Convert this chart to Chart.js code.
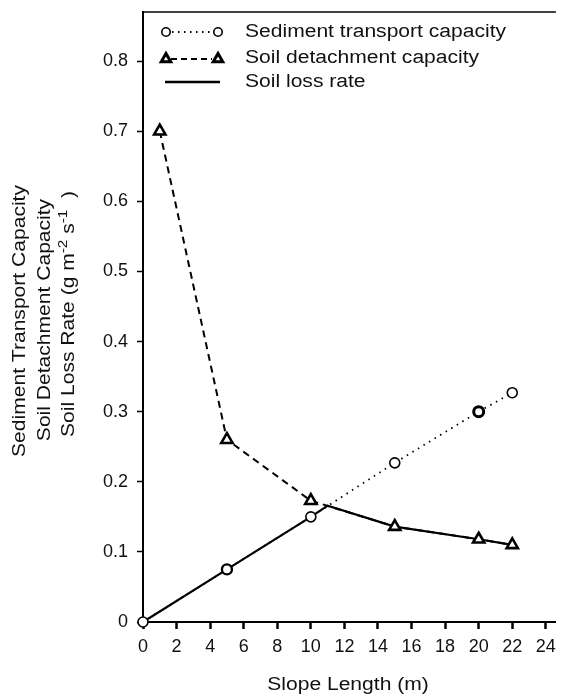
<!DOCTYPE html>
<html>
<head>
<meta charset="utf-8">
<script src="https://cdn.jsdelivr.net/npm/chart.js@4.4.1/dist/chart.umd.min.js"></script>
<style>
  html, body { margin: 0; padding: 0; background: #fff; }
  canvas { display: block; }
</style>
</head>
<body>
<canvas id="slope-chart" width="565" height="696"></canvas>
<script>
// Slope length (m) for each measured point
const transportLength = [0, 5, 10, 15, 20, 22];
const transportCapacity = [0, 0.075, 0.15, 0.227, 0.30, 0.327];

const detachmentLength = [1, 5, 10, 15, 20, 22];
const detachmentCapacity = [0.70, 0.26, 0.173, 0.136, 0.118, 0.11];

// loss rate follows whichever capacity is lower
const lossLength = [0, 5, 10, 11, 15, 20, 22];
const lossRate = [0, 0.075, 0.15, 0.166, 0.136, 0.118, 0.11];

const xTicks = [0, 2, 4, 6, 8, 10, 12, 14, 16, 18, 20, 22, 24];
const yTicks = [0, 0.1, 0.2, 0.3, 0.4, 0.5, 0.6, 0.7, 0.8];

const legendLabels = ['Sediment transport capacity', 'Soil detachment capacity', 'Soil loss rate'];
const xTitle = 'Slope Length (m)';
const yTitleLines = ['Sediment Transport Capacity', 'Soil Detachment Capacity'];

const FONT = '"Liberation Sans", Arial, Helvetica, sans-serif';

function toPoints(xs, ys) {
    return xs.map((x, i) => ({ x: x, y: ys[i] }));
}

// text drawn slightly wider than the font, like the printed figure
function wideText(ctx, text, x, y, sx) {
    ctx.save();
    ctx.translate(x, y);
    ctx.scale(sx, 1);
    ctx.fillText(text, 0, 0);
    ctx.restore();
}

function triangle(ctx, x, y, r) {
    ctx.beginPath();
    ctx.moveTo(x, y - r);
    ctx.lineTo(x + r * 0.866, y + r * 0.5);
    ctx.lineTo(x - r * 0.866, y + r * 0.5);
    ctx.closePath();
}

// keep the plot frame where we put it, no extra room for edge labels
function noEdgePadding(scale) {
    scale.paddingTop = 0;
    scale.paddingBottom = 0;
    scale.paddingLeft = 0;
    scale.paddingRight = 0;
}

const decorations = {
    id: 'decorations',
    afterDraw(chart) {
        const ctx = chart.ctx;
        const area = chart.chartArea;
        ctx.save();

        // top edge of the frame
        ctx.strokeStyle = '#000';
        ctx.lineWidth = 1.5;
        ctx.beginPath();
        ctx.moveTo(area.left, area.top);
        ctx.lineTo(area.right, area.top);
        ctx.stroke();

        // legend
        ctx.fillStyle = '#111';
        ctx.font = '18px ' + FONT;
        ctx.textAlign = 'left';
        ctx.textBaseline = 'middle';
        const rows = [32, 58, 82];
        const x1 = 166, x2 = 218;

        // row 1: circles with dotted line
        ctx.lineWidth = 1.8;
        ctx.setLineDash([1.5, 4.5]);
        ctx.beginPath();
        ctx.moveTo(x1 + 6, rows[0]);
        ctx.lineTo(x2 - 6, rows[0]);
        ctx.stroke();
        ctx.setLineDash([]);
        ctx.lineWidth = 1.6;
        [x1, x2].forEach(x => {
            ctx.beginPath();
            ctx.arc(x, rows[0], 4.2, 0, Math.PI * 2);
            ctx.fillStyle = '#fff';
            ctx.fill();
            ctx.stroke();
        });

        // row 2: triangles with dashed line
        ctx.lineWidth = 2;
        ctx.setLineDash([6, 4]);
        ctx.beginPath();
        ctx.moveTo(x1 + 5, rows[1] + 1);
        ctx.lineTo(x2 - 6, rows[1] + 1);
        ctx.stroke();
        ctx.setLineDash([]);
        ctx.lineWidth = 3;
        [x1, x2].forEach(x => {
            triangle(ctx, x, rows[1] + 1, 5.5);
            ctx.fillStyle = '#fff';
            ctx.fill();
            ctx.stroke();
        });

        // row 3: solid line
        ctx.lineWidth = 2.5;
        ctx.beginPath();
        ctx.moveTo(x1 - 1, rows[2]);
        ctx.lineTo(x2 + 2, rows[2]);
        ctx.stroke();

        ctx.fillStyle = '#111';
        legendLabels.forEach((label, i) => wideText(ctx, label, 245, rows[i], 1.17));

        // x axis title
        ctx.textAlign = 'center';
        ctx.textBaseline = 'alphabetic';
        wideText(ctx, xTitle, 348, 690, 1.17);

        // y axis title, three rotated lines
        const baselines = [25, 50, 74];
        const centers = [321, 320, 314];
        yTitleLines.forEach((line, i) => {
            ctx.save();
            ctx.translate(baselines[i], centers[i]);
            ctx.rotate(-Math.PI / 2);
            ctx.scale(1.17, 1);
            ctx.textAlign = 'center';
            ctx.fillText(line, 0, 0);
            ctx.restore();
        });

        // third line carries the unit with superscripts
        const parts = [
            { t: 'Soil Loss Rate (g m', sup: false },
            { t: '-2', sup: true },
            { t: ' s', sup: false },
            { t: '-1', sup: true },
            { t: '  )', sup: false }
        ];
        ctx.save();
        ctx.translate(baselines[2], centers[2]);
        ctx.rotate(-Math.PI / 2);
        ctx.scale(1.17, 1);
        ctx.textAlign = 'left';
        let total = 0;
        parts.forEach(p => {
            ctx.font = (p.sup ? '13px ' : '18px ') + FONT;
            p.w = ctx.measureText(p.t).width;
            total += p.w;
        });
        let pos = -total / 2;
        parts.forEach(p => {
            ctx.font = (p.sup ? '13px ' : '18px ') + FONT;
            ctx.fillText(p.t, pos, p.sup ? -7 : 0);
            pos += p.w;
        });
        ctx.restore();

        ctx.restore();
    }
};

new Chart(document.getElementById('slope-chart'), {
    type: 'scatter',
    data: {
        datasets: [
            {
                label: 'Soil loss rate',
                data: toPoints(lossLength, lossRate),
                showLine: true,
                borderColor: '#000',
                borderWidth: 2.2,
                pointRadius: 0,
                order: 3,
                clip: false
            },
            {
                label: 'Sediment transport capacity',
                data: toPoints(transportLength, transportCapacity),
                showLine: true,
                borderColor: '#000',
                borderWidth: 1.8,
                borderDash: [1.5, 5],
                pointStyle: 'circle',
                pointRadius: 5,
                pointBorderWidth: [1.6, 2.4, 1.6, 1.6, 3, 1.6],
                pointBackgroundColor: '#fff',
                pointBorderColor: '#000',
                order: 2,
                clip: false
            },
            {
                label: 'Soil detachment capacity',
                data: toPoints(detachmentLength, detachmentCapacity),
                showLine: true,
                borderColor: '#000',
                borderWidth: 2,
                borderDash: [7, 5],
                pointStyle: 'triangle',
                pointRadius: 6.5,
                pointBorderWidth: 2.6,
                pointBackgroundColor: '#fff',
                pointBorderColor: '#000',
                order: 1,
                clip: false
            }
        ]
    },
    options: {
        responsive: false,
        animation: false,
        events: [],
        layout: { padding: { top: 12, left: 0, right: 0, bottom: 0 } },
        plugins: {
            legend: { display: false },
            tooltip: { enabled: false }
        },
        scales: {
            x: {
                type: 'linear',
                min: 0,
                max: 24.6,
                afterBuildTicks: scale => { scale.ticks = xTicks.map(v => ({ value: v })); },
                afterFit: scale => { scale.height = 74; noEdgePadding(scale); },
                border: { color: '#000', width: 2 },
                grid: {
                    drawOnChartArea: false,
                    drawTicks: true,
                    tickLength: 7,
                    tickWidth: 2.5,
                    tickColor: '#000'
                },
                ticks: {
                    color: '#111',
                    font: { size: 18, family: FONT },
                    padding: 7,
                    maxRotation: 0,
                    autoSkip: false,
                    callback: v => String(v)
                }
            },
            y: {
                type: 'linear',
                min: 0,
                max: 0.87,
                afterBuildTicks: scale => { scale.ticks = yTicks.map(v => ({ value: v })); },
                afterFit: scale => { scale.width = 143; noEdgePadding(scale); },
                border: { color: '#000', width: 2 },
                grid: {
                    drawOnChartArea: false,
                    drawTicks: true,
                    tickLength: 6,
                    tickWidth: 1.5,
                    tickColor: '#000'
                },
                ticks: {
                    color: '#111',
                    font: { size: 18, family: FONT },
                    padding: 9,
                    autoSkip: false,
                    callback: v => (v === 0 ? '0' : v.toFixed(1))
                }
            }
        }
    },
    plugins: [decorations]
});
</script>
</body>
</html>
